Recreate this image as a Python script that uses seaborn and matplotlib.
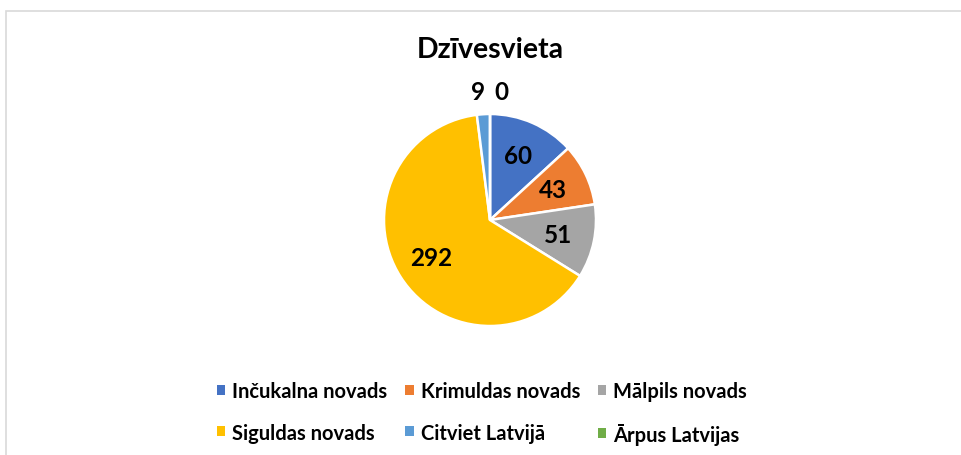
import matplotlib
matplotlib.use("Agg")
import matplotlib.pyplot as plt
from matplotlib.patches import Patch, Rectangle
import seaborn as sns

# Place of residence breakdown
categories = ["Inčukalna novads", "Krimuldas novads", "Mālpils novads",
              "Siguldas novads", "Citviet Latvijā", "Ārpus Latvijas"]
counts = [60, 43, 51, 292, 9, 0]
colors = ["#4472C4", "#ED7D31", "#A5A5A5", "#FFC000", "#5B9BD5", "#70AD47"]
title = "Dzīvesvieta"

sns.set_theme(style="white")
plt.rcParams["font.family"] = ["Lato", "DejaVu Sans"]

W, H = 961, 456
fig = plt.figure(figsize=(W / 100, H / 100), dpi=100)
fig.patch.set_facecolor("white")

# light chart-area frame
fig.patches.append(Rectangle((6 / W, -0.1), 1.2, (H - 12) / H + 0.1,
                             transform=fig.transFigure, fill=False,
                             edgecolor="#D9D9D9", linewidth=1.2))

# pie axes: centre (490, 221) px, radius ~106 px
R = 106
cx, cy = 490, H - 221
span = 1.4
size = 2 * span * R
ax = fig.add_axes([(cx - size / 2) / W, (cy - size / 2) / H, size / W, size / H])

palette = sns.color_palette(colors)
wedges, texts = ax.pie(counts, colors=palette, startangle=90, counterclock=False,
                       labels=[str(v) for v in counts], labeldistance=0.66,
                       wedgeprops=dict(edgecolor="white", linewidth=1.8),
                       textprops=dict(fontsize=17.5, fontweight="bold", color="black"))
ax.set_xlim(-span, span)
ax.set_ylim(-span, span)
ax.set_aspect("equal")
ax.axis("off")

# inside labels centred on their wedge; tiny slices labelled above the pie
total = sum(counts)
for v, t in zip(counts, texts):
    t.set_ha("center")
    t.set_va("center")
    if v / total < 0.03:
        x, y = t.get_position()
        scale = 1.21 / 0.66
        t.set_position((x * scale, y * scale))
texts[4].set_ha("right")
texts[5].set_ha("left")
texts[4].set_position((texts[4].get_position()[0] + 0.03, texts[4].get_position()[1]))
texts[5].set_position((texts[5].get_position()[0] + 0.04, texts[5].get_position()[1]))

fig.text(cx / W, (H - 50) / H, title, ha="center", va="center",
         fontsize=20.5, fontweight="bold", color="black")

handles = [Patch(facecolor=c, edgecolor="none") for c in palette]
order = [0, 3, 1, 4, 2, 5]
fig.legend([handles[i] for i in order], [categories[i] for i in order],
           ncol=3, loc="center", bbox_to_anchor=(482 / W, (H - 414) / H),
           frameon=False, prop=dict(size=14.5, weight="bold"),
           handlelength=0.4, handleheight=0.4, handletextpad=0.35,
           columnspacing=0.9, labelspacing=1.05, labelcolor="black")

fig.savefig("out.png", dpi=100, facecolor="white")
